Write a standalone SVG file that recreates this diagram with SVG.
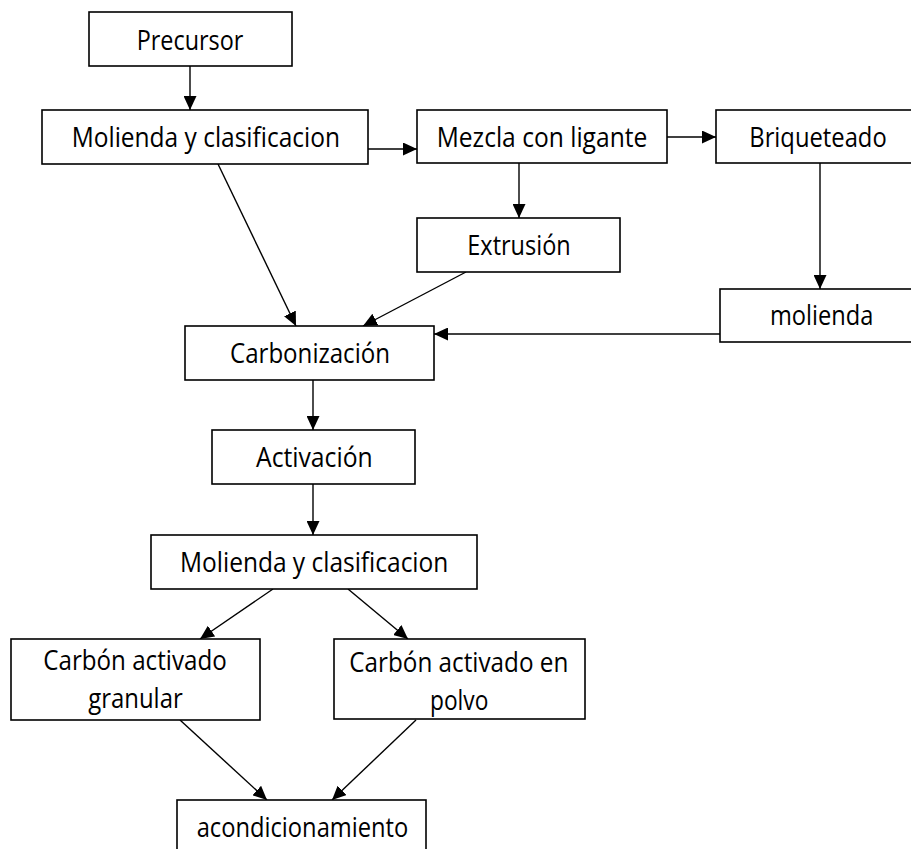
<svg xmlns="http://www.w3.org/2000/svg" width="911" height="849" viewBox="0 0 911 849">
  <style>
    .box { fill: #ffffff; stroke: #000000; stroke-width: 1.6; }
    .lbl { font-family: "Open Sans", "Noto Sans", "Liberation Sans", sans-serif; font-size: 28px; fill: #000000; }
    .edge { fill: none; stroke: #000000; stroke-width: 1.4; marker-end: url(#arrow); }
  </style>
  <defs>
    <marker id="arrow" markerUnits="userSpaceOnUse" markerWidth="15" markerHeight="13" refX="14" refY="6.5" orient="auto">
      <path d="M0,0 L14,6.5 L0,13 Z" fill="#000000"/>
    </marker>
  </defs>
  <rect width="911" height="849" fill="#ffffff"/>

  <g id="connectors">
    <line class="edge" x1="190" y1="66" x2="190" y2="110"/>
    <line class="edge" x1="368" y1="149" x2="417" y2="149"/>
    <line class="edge" x1="667" y1="137" x2="716" y2="137"/>
    <line class="edge" x1="519" y1="163" x2="519" y2="218"/>
    <line class="edge" x1="820" y1="163" x2="820" y2="289"/>
    <line class="edge" x1="720" y1="334" x2="434" y2="334"/>
    <line class="edge" x1="218" y1="164" x2="296" y2="326"/>
    <line class="edge" x1="466" y1="272" x2="363" y2="326"/>
    <line class="edge" x1="313" y1="380" x2="313" y2="430"/>
    <line class="edge" x1="313" y1="484" x2="313" y2="535"/>
    <line class="edge" x1="273" y1="589" x2="200" y2="639"/>
    <line class="edge" x1="348" y1="589" x2="408" y2="639"/>
    <line class="edge" x1="180" y1="720" x2="267" y2="800"/>
    <line class="edge" x1="416" y1="720" x2="332" y2="800"/>
  </g>

  <g id="precursor">
    <rect class="box" x="89" y="12" width="203" height="54"/>
    <text class="lbl" x="136.7" y="49.5" textLength="106.6" lengthAdjust="spacingAndGlyphs">Precursor</text>
  </g>
  <g id="molienda-clasificacion-1">
    <rect class="box" x="42" y="110" width="326" height="54"/>
    <text class="lbl" x="71.7" y="147.3" textLength="268.3" lengthAdjust="spacingAndGlyphs">Molienda y clasificacion</text>
  </g>
  <g id="mezcla">
    <rect class="box" x="417" y="110" width="250" height="53"/>
    <text class="lbl" x="436.7" y="147.3" textLength="210.6" lengthAdjust="spacingAndGlyphs">Mezcla con ligante</text>
  </g>
  <g id="briqueteado">
    <rect class="box" x="716" y="110" width="210" height="53"/>
    <text class="lbl" x="749.3" y="146.7" textLength="137.4" lengthAdjust="spacingAndGlyphs">Briqueteado</text>
  </g>
  <g id="extrusion">
    <rect class="box" x="417" y="218" width="203" height="54"/>
    <text class="lbl" x="467.3" y="255" textLength="103.4" lengthAdjust="spacingAndGlyphs">Extrusión</text>
  </g>
  <g id="molienda">
    <rect class="box" x="720" y="289" width="205" height="53"/>
    <text class="lbl" x="770" y="325" textLength="103.3" lengthAdjust="spacingAndGlyphs">molienda</text>
  </g>
  <g id="carbonizacion">
    <rect class="box" x="185" y="326" width="249" height="54"/>
    <text class="lbl" x="230" y="363.3" textLength="160" lengthAdjust="spacingAndGlyphs">Carbonización</text>
  </g>
  <g id="activacion">
    <rect class="box" x="212" y="430" width="203" height="54"/>
    <text class="lbl" x="256" y="466.7" textLength="116.7" lengthAdjust="spacingAndGlyphs">Activación</text>
  </g>
  <g id="molienda-clasificacion-2">
    <rect class="box" x="151" y="535" width="326" height="54"/>
    <text class="lbl" x="180" y="572.3" textLength="268.3" lengthAdjust="spacingAndGlyphs">Molienda y clasificacion</text>
  </g>
  <g id="granular">
    <rect class="box" x="11" y="639" width="249" height="81"/>
    <text class="lbl" x="43.3" y="670" textLength="183.4" lengthAdjust="spacingAndGlyphs">Carbón activado</text>
    <text class="lbl" x="88.3" y="708.3" textLength="94.4" lengthAdjust="spacingAndGlyphs">granular</text>
  </g>
  <g id="polvo">
    <rect class="box" x="334" y="639" width="251" height="80"/>
    <text class="lbl" x="349.3" y="671.7" textLength="219" lengthAdjust="spacingAndGlyphs">Carbón activado en</text>
    <text class="lbl" x="430" y="710" textLength="58.3" lengthAdjust="spacingAndGlyphs">polvo</text>
  </g>
  <g id="acondicionamiento">
    <rect class="box" x="177" y="800" width="249" height="60"/>
    <text class="lbl" x="196.7" y="836.7" textLength="211.6" lengthAdjust="spacingAndGlyphs">acondicionamiento</text>
  </g>
</svg>
